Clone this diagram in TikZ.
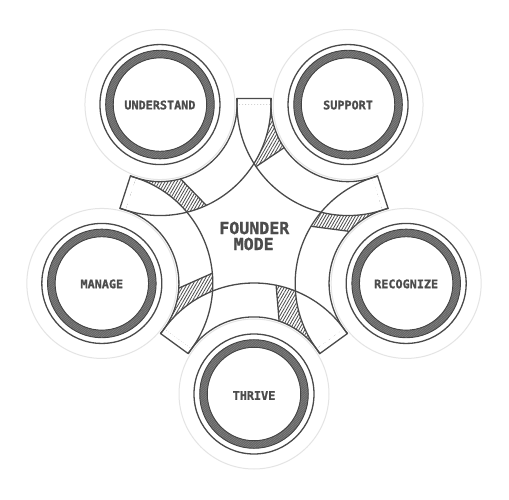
\documentclass[tikz,border=0pt]{standalone}
\usepackage{fontspec}
\newfontfamily\labfont{DejaVu Sans Mono}[BoldFeatures={FakeBold=1.2}]
\usetikzlibrary{patterns.meta}
\definecolor{ink}{HTML}{4A4A4A}
\definecolor{faintc}{HTML}{E4E4E4}
\definecolor{ringfill}{HTML}{666666}
\definecolor{ringlight}{HTML}{8A8A8A}
\definecolor{txt}{HTML}{4C4C4C}
\begin{document}
\begin{tikzpicture}[x=1pt,y=1pt,
  band/.style={draw=ink, line width=1.3pt, line join=round, line cap=round},
  hatchfill/.style={pattern={Lines[angle=60,distance=2.6pt,line width=0.8pt]}, pattern color=ink},
  faint/.style={draw=faintc, line width=1pt},
  ringedge/.style={draw=ink!90!black, line width=0.9pt},
  lab/.style={text=txt, font=\labfont\bfseries\fontsize{11.8}{12}\selectfont, inner sep=0pt},
  biglab/.style={text=txt, font=\labfont\bfseries\fontsize{16.6}{17}\selectfont, inner sep=0pt}]
\useasboundingbox (0,0) rectangle (509,499);
\fill[white] (0,0) rectangle (509,499);
\def\Cx{254}\def\Cy{265}\def\Rp{160}
\def\rtwo{111}\def\rone{77.09}\def\atwo{3.1}\def\aone{4.46}
\foreach \nm/\ph in {U/126,S/54,R/-18,T/-90,M/198}{
  \coordinate (\nm) at ({\Cx+\Rp*cos(\ph)},{\Cy+\Rp*sin(\ph)});
}
% hatched shadows
\foreach \nm/\ph/\ai/\ao/\pv in {S/54/34/34/U, R/-18/29.5/41/S, T/-90/35/42.5/R, M/198/32.5/41.3/T, U/126/33.5/42.7/M}{
  \pgfmathsetmacro\tc{\ph+126}
  \pgfmathsetmacro\tin{\tc+\ai}
  \pgfmathsetmacro\tout{\tc+\ao}
  \begin{scope}
    \clip ([shift={(\tc:\rtwo)}]\nm) arc[start angle=\tc, end angle=\tout, radius=\rtwo]
      -- ([shift={(\tin:\rone)}]\nm) arc[start angle=\tin, end angle=\tc, radius=\rone] -- cycle;
    \fill[hatchfill] (\nm) circle[radius=120];
    \fill[white] (\pv) circle[radius=\rtwo];
  \end{scope}
}
% bands
\foreach \nm/\ph/\ai/\ao in {S/54/34/34, R/-18/29.5/41, T/-90/35/42.5, M/198/32.5/41.3, U/126/33.5/42.7}{
  \pgfmathsetmacro\tc{\ph+126}
  \pgfmathsetmacro\te{\ph+234}
  \pgfmathsetmacro\oS{\tc-\atwo}
  \pgfmathsetmacro\oE{\te+\atwo}
  \pgfmathsetmacro\iS{\tc-\aone}
  \pgfmathsetmacro\iE{\te+\aone}
  \pgfmathsetmacro\tin{\tc+\ai}
  \pgfmathsetmacro\tout{\tc+\ao}
  \draw[band] ([shift={(\oS:\rtwo)}]\nm) arc[start angle=\oS, end angle=\oE, radius=\rtwo];
  \draw[band] ([shift={(\iS:\rone)}]\nm) arc[start angle=\iS, end angle=\iE, radius=\rone];
  \draw[band] ([shift={(\oS:\rtwo)}]\nm) -- ([shift={(\iS:\rone)}]\nm);
  \draw[band] ([shift={(\tin:\rone)}]\nm) -- ([shift={(\tout:\rtwo)}]\nm);
}
% node rings
\foreach \nm in {U,S,R,T,M}{
  \draw[faint] (\nm) circle[radius=75];
  \fill[ringfill, even odd rule] (\nm) circle[radius=54.3] (\nm) circle[radius=46.7];
  \fill[pattern={Lines[angle=40,distance=1.7pt,line width=0.35pt]}, pattern color=ringlight, even odd rule] (\nm) circle[radius=54.3] (\nm) circle[radius=46.7];
  \draw[ringedge] (\nm) circle[radius=54.3];
  \draw[ringedge] (\nm) circle[radius=46.7];
  \draw[band] (\nm) circle[radius=60];
}
\node[lab] (lU) at ([yshift=-0.5]U) {UNDERSTAND};
\node[lab] (lS) at ([yshift=-0.5]S) {SUPPORT};
\node[lab] (lR) at ([yshift=-0.5]R) {RECOGNIZE};
\node[lab] (lM) at ([yshift=-0.5]M) {MANAGE};
\node[lab] (lT) at ([yshift=-1.5]T) {THRIVE};
\node[biglab] (f1) at (254.3,271) {FOUNDER};
\node[biglab] (f2) at (253.7,255) {MODE};
\end{tikzpicture}
\end{document}
